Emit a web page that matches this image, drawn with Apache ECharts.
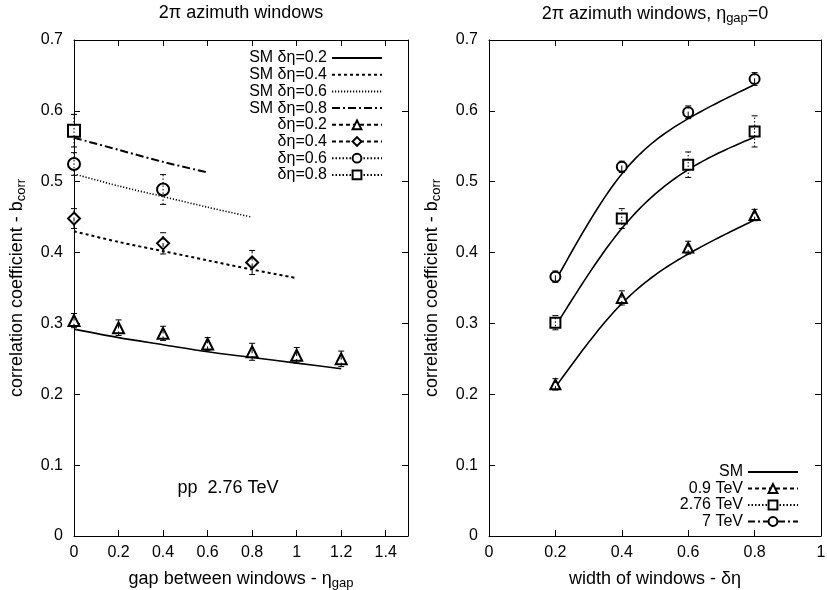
<!DOCTYPE html>
<html>
  <head>
    <meta charset="utf-8">
    <title>b_corr vs gap and window width</title>
    <script src="https://cdn.jsdelivr.net/npm/echarts@6/dist/echarts.min.js"></script>
    <style>
    html, body { margin: 0; padding: 0; background: #fff; }
    #chart { width: 827px; height: 590px; }
    </style>
  </head>
  <body>
    <div id="chart"></div>
    <script type="text/javascript">
      // ---- left panel: b_corr vs eta_gap (pp 2.76 TeV) ----
      var gapX = [0, 0.2, 0.4, 0.6, 0.8, 1.0, 1.2];
      var smGap02 = [0.292, 0.280, 0.270, 0.260, 0.252, 0.244, 0.236];
      var smGap04 = [0.430, 0.415, 0.402, 0.389, 0.376, 0.364];
      var smGap06 = [0.511, 0.494, 0.479, 0.464, 0.450];
      var smGap08 = [0.562, 0.545, 0.528, 0.513];

      var dat02X = [0, 0.2, 0.4, 0.6, 0.8, 1.0, 1.2];
      var dat02Y = [0.304, 0.294, 0.286, 0.271, 0.260, 0.255, 0.250];
      var dat02E = [0.010, 0.011, 0.010, 0.009, 0.012, 0.011, 0.011];
      var dat04X = [0, 0.4, 0.8];
      var dat04Y = [0.448, 0.413, 0.386];
      var dat04E = [0.014, 0.015, 0.017];
      var dat06X = [0, 0.4];
      var dat06Y = [0.525, 0.489];
      var dat06E = [0.016, 0.021];
      var dat08X = [0];
      var dat08Y = [0.572];
      var dat08E = [0.023];

      // ---- right panel: b_corr vs window width, eta_gap = 0 ----
      var widthX = [0.2, 0.4, 0.6, 0.8];
      var smW09 = [0.210, 0.328, 0.398, 0.446];
      var smW276 = [0.296, 0.434, 0.517, 0.563];
      var smW7 = [0.360, 0.511, 0.589, 0.637];
      var w09Y = [0.214, 0.336, 0.407, 0.453];
      var w09E = [0.008, 0.010, 0.009, 0.008];
      var w276Y = [0.301, 0.448, 0.524, 0.571];
      var w276E = [0.010, 0.014, 0.018, 0.022];
      var w7Y = [0.366, 0.521, 0.598, 0.645];
      var w7E = [0.008, 0.008, 0.009, 0.009];

      var FONT = 'Liberation Sans, Arial, sans-serif';
      var DASH = [4, 3];
      var DOT = [1.5, 2];
      var DASHDOT = [7, 3, 2, 3];

      function pairs(xs, ys) {
        return ys.map(function (y, i) { return [xs[i], y]; });
      }
      function triples(xs, ys, es) {
        return ys.map(function (y, i) { return [xs[i], y, es[i]]; });
      }

      // natural cubic spline through the points (like gnuplot "smooth csplines")
      function splineSamples(xs, ys, steps) {
        var n = xs.length, h = [], m = new Array(n).fill(0);
        for (var i = 0; i < n - 1; i++) h.push(xs[i + 1] - xs[i]);
        var a = [], b = [], c = [], d = [];
        for (var i = 1; i < n - 1; i++) {
          a.push(h[i - 1]); b.push(2 * (h[i - 1] + h[i])); c.push(h[i]);
          d.push(6 * ((ys[i + 1] - ys[i]) / h[i] - (ys[i] - ys[i - 1]) / h[i - 1]));
        }
        var k = b.length;
        for (var i = 1; i < k; i++) {
          var w = a[i] / b[i - 1];
          b[i] -= w * c[i - 1]; d[i] -= w * d[i - 1];
        }
        for (var i = k - 1; i >= 0; i--) {
          m[i + 1] = (d[i] - (i < k - 1 ? c[i] * m[i + 2] : 0)) / b[i];
        }
        var out = [];
        for (var s = 0; s <= steps; s++) {
          var x = xs[0] + (xs[n - 1] - xs[0]) * s / steps;
          var j = Math.min(n - 2, Math.max(0, Math.floor((x - xs[0]) / h[0])));
          while (j < n - 2 && x > xs[j + 1]) j++;
          var t0 = xs[j + 1] - x, t1 = x - xs[j], hj = h[j];
          var y = m[j] * t0 * t0 * t0 / (6 * hj) + m[j + 1] * t1 * t1 * t1 / (6 * hj)
            + (ys[j] / hj - m[j] * hj / 6) * t0 + (ys[j + 1] / hj - m[j + 1] * hj / 6) * t1;
          out.push([x, y]);
        }
        return out;
      }

      function errRender(dash) {
        return function (params, api) {
          var x = api.value(0), y = api.value(1), e = api.value(2);
          var lo = api.coord([x, y - e]);
          var hi = api.coord([x, y + e]);
          var c = 3;
          var st = { stroke: '#000', lineWidth: 1, lineDash: dash, fill: null };
          return {
            type: 'group',
            children: [
              { type: 'line', shape: { x1: lo[0], y1: lo[1], x2: hi[0], y2: hi[1] }, style: st },
              { type: 'line', shape: { x1: lo[0] - c, y1: lo[1], x2: lo[0] + c, y2: lo[1] }, style: { stroke: '#000', lineWidth: 1 } },
              { type: 'line', shape: { x1: hi[0] - c, y1: hi[1], x2: hi[0] + c, y2: hi[1] }, style: { stroke: '#000', lineWidth: 1 } }
            ]
          };
        };
      }

      function smLine(name, xi, data, dash, width, smooth) {
        return {
          name: name, type: 'line', xAxisIndex: xi, yAxisIndex: xi,
          data: data, symbol: 'none', smooth: smooth, silent: true,
          itemStyle: { color: '#000' },
          lineStyle: { color: '#000', width: width, type: dash }
        };
      }
      function smCurve(xi, xs, ys) {
        return {
          type: 'custom', xAxisIndex: xi, yAxisIndex: xi, silent: true,
          data: pairs(xs, ys), encode: { x: 0, y: 1 }, z: 2,
          renderItem: function (params, api) {
            if (params.dataIndex !== 0) return null;
            var pts = splineSamples(xs, ys, 60).map(function (p) { return api.coord(p); });
            return { type: 'polyline', shape: { points: pts }, style: { stroke: '#000', lineWidth: 1.6, fill: null } };
          }
        };
      }
      function points(name, xi, data, sym, size, dash) {
        return {
          name: name, type: 'line', xAxisIndex: xi, yAxisIndex: xi,
          data: data, symbol: sym, symbolSize: size, silent: true,
          itemStyle: { color: '#000', borderWidth: 1 },
          lineStyle: { color: '#000', width: 1, type: dash, opacity: 0 },
          z: 3
        };
      }
      function errBars(xi, data, dash) {
        return {
          type: 'custom', xAxisIndex: xi, yAxisIndex: xi, silent: true,
          renderItem: errRender(dash), data: data,
          encode: { x: 0, y: 1 }, z: 4
        };
      }

      function xAxes(gridIndex, max, mirror) {
        return {
          gridIndex: gridIndex, type: 'value', min: 0, max: max, interval: 0.2,
          position: mirror ? 'top' : 'bottom',
          axisLine: { show: true, onZero: false, lineStyle: { color: '#000', width: 1 } },
          axisTick: { inside: true, length: 6, lineStyle: { color: '#000' } },
          axisLabel: { show: !mirror, color: '#000', fontFamily: FONT, fontSize: 16, margin: 9, showMaxLabel: max === 1 },
          splitLine: { show: false }
        };
      }
      function yAxes(gridIndex, mirror) {
        return {
          gridIndex: gridIndex, type: 'value', min: 0, max: 0.7, interval: 0.1,
          position: mirror ? 'right' : 'left',
          axisLine: { show: true, onZero: false, lineStyle: { color: '#000', width: 1 } },
          axisTick: { inside: true, length: 6, lineStyle: { color: '#000' } },
          axisLabel: { show: !mirror, color: '#000', fontFamily: FONT, fontSize: 16, margin: 11 },
          splitLine: { show: false }
        };
      }

      var nameRich = {
        n: { fontFamily: FONT, fontSize: 18, color: '#000', lineHeight: 22 },
        s: { fontFamily: FONT, fontSize: 13, color: '#000', lineHeight: 22, padding: [9, 0, 0, 0] }
      };

      var xa = [xAxes(0, 1.5, false), xAxes(0, 1.5, true), xAxes(1, 1, false), xAxes(1, 1, true)];
      xa[0].name = '{n|gap between windows - η}{s|gap}';
      xa[2].name = '{n|width of windows - δη}';
      var ya = [yAxes(0, false), yAxes(0, true), yAxes(1, false), yAxes(1, true)];
      ya[0].name = '{n|correlation coefficient - b}{s|corr}';
      ya[2].name = '{n|correlation coefficient - b}{s|corr}';
      [xa[0], xa[2]].forEach(function (a) {
        a.nameLocation = 'middle'; a.nameGap = 32; a.nameTextStyle = { rich: nameRich };
      });
      [ya[0], ya[2]].forEach(function (a) {
        a.nameLocation = 'middle'; a.nameGap = 46; a.nameTextStyle = { rich: nameRich };
      });

      var series = [
        smLine('SM δη=0.2', 0, pairs(gapX, smGap02), 'solid', 1.6, 0.3),
        smLine('SM δη=0.4', 0, pairs(gapX, smGap04), [3, 3], 2, 0.3),
        smLine('SM δη=0.6', 0, pairs(gapX, smGap06), [1.2, 1.8], 1.6, 0.3),
        smLine('SM δη=0.8', 0, pairs(gapX, smGap08), [8, 3, 2, 3], 2, 0.3),
        points('δη=0.2', 0, pairs(dat02X, dat02Y), 'emptyTriangle', 11, DASH),
        points('δη=0.4', 0, pairs(dat04X, dat04Y), 'emptyDiamond', 12, DASH),
        points('δη=0.6', 0, pairs(dat06X, dat06Y), 'emptyCircle', 12, DOT),
        points('δη=0.8', 0, pairs(dat08X, dat08Y), 'emptyRect', 12, DOT),
        errBars(0, triples(dat02X, dat02Y, dat02E), DASH),
        errBars(0, triples(dat04X, dat04Y, dat04E), DASH),
        errBars(0, triples(dat06X, dat06Y, dat06E), DOT),
        errBars(0, triples(dat08X, dat08Y, dat08E), DOT),

        // legend entry for the SM curves of the right panel
        smLine('SM', 2, [], 'solid', 1.6, false),
        smCurve(2, widthX, smW09),
        smCurve(2, widthX, smW276),
        smCurve(2, widthX, smW7),
        points('0.9 TeV', 2, pairs(widthX, w09Y), 'emptyTriangle', 10, DASH),
        points('2.76 TeV', 2, pairs(widthX, w276Y), 'emptyRect', 10, DOT),
        points('7 TeV', 2, pairs(widthX, w7Y), 'emptyCircle', 10, DASHDOT),
        errBars(2, triples(widthX, w09Y, w09E), DASH),
        errBars(2, triples(widthX, w276Y, w276E), DOT),
        errBars(2, triples(widthX, w7Y, w7E), DASHDOT)
      ];

      var legendText = { fontFamily: FONT, fontSize: 16, color: '#000', lineHeight: 16 };
      function lgItem(name, isPts) {
        return isPts ? { name: name, lineStyle: { opacity: 1 } }
                     : { name: name, itemStyle: { opacity: 0 } };
      }

      var option = {
        animation: false,
        backgroundColor: '#fff',
        grid: [
          { left: 74, right: 419, top: 40, bottom: 54, outerBoundsMode: 'none' },
          { left: 489, right: 6, top: 40, bottom: 54, outerBoundsMode: 'none' }
        ],
        xAxis: xa,
        yAxis: ya,
        legend: [
          {
            orient: 'vertical', align: 'right', right: 439, top: 45,
            itemWidth: 50, itemHeight: 11, itemGap: 0.7, selectedMode: false,
            textStyle: legendText,
            data: [
              lgItem('SM δη=0.2'), lgItem('SM δη=0.4'), lgItem('SM δη=0.6'), lgItem('SM δη=0.8'),
              lgItem('δη=0.2', true), lgItem('δη=0.4', true), lgItem('δη=0.6', true), lgItem('δη=0.8', true)
            ]
          },
          {
            orient: 'vertical', align: 'right', right: 23, top: 459,
            itemWidth: 50, itemHeight: 11, itemGap: 0.5, selectedMode: false,
            textStyle: legendText,
            data: [lgItem('SM'), lgItem('0.9 TeV', true), lgItem('2.76 TeV', true), lgItem('7 TeV', true)]
          }
        ],
        graphic: [
          { type: 'text', x: 241, y: 13, style: { text: '2π azimuth windows', font: '18px ' + FONT, fill: '#000', align: 'center', verticalAlign: 'middle' } },
          { type: 'text', x: 655, y: 14, style: {
              text: '{n|2π azimuth windows, η}{s|gap}{n|=0}', align: 'center', verticalAlign: 'middle',
              rich: nameRich } },
          { type: 'text', x: 228, y: 488, style: { text: 'pp  2.76 TeV', font: '18px ' + FONT, fill: '#000', align: 'center', verticalAlign: 'middle' } }
        ],
        series: series
      };

      var chart = echarts.init(document.getElementById('chart'), null, { renderer: 'canvas' });
      chart.setOption(option);
    </script>
  </body>
</html>
